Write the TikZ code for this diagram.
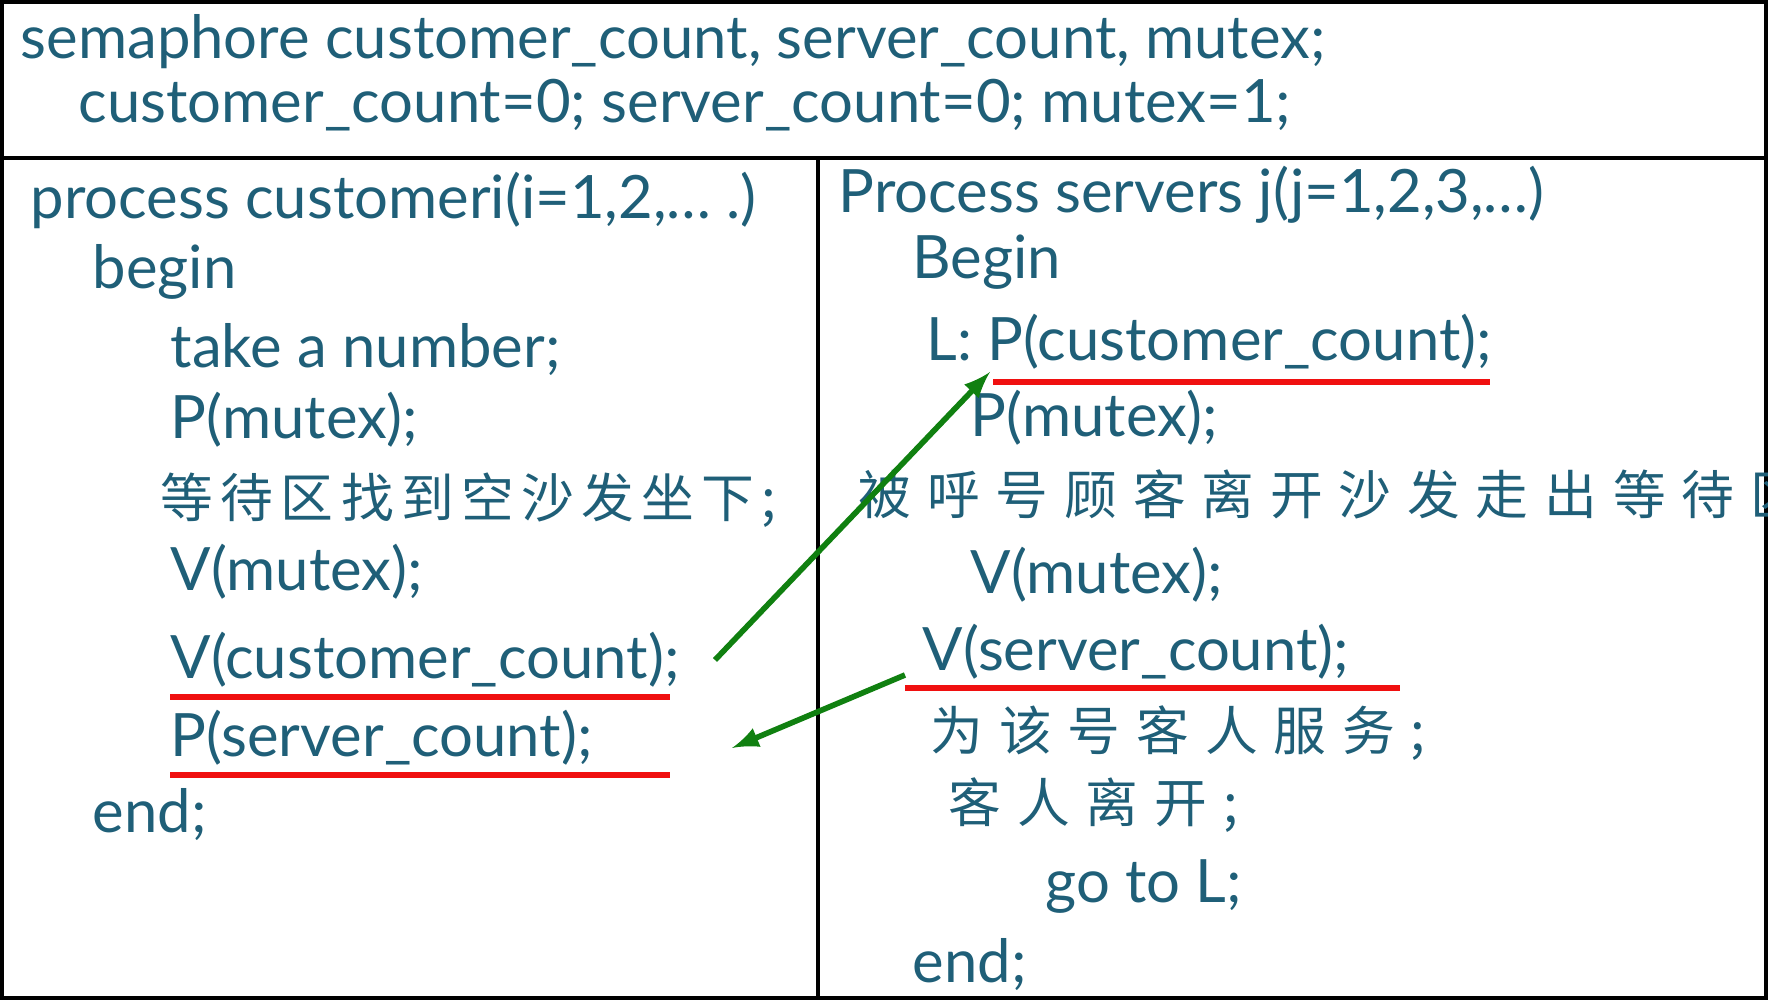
\documentclass[tikz,border=0pt]{standalone}
\usepackage{fontspec}
\setmainfont{Lato}
\newfontfamily\cjk{Noto Sans CJK SC}
\newfontfamily\cjkwide[LetterSpace=14]{Noto Sans CJK SC}
\newfontfamily\cjkwider[LetterSpace=30]{Noto Sans CJK SC}
\definecolor{codeteal}{HTML}{1F5F78}
\definecolor{markred}{HTML}{F01010}
\definecolor{arrowgreen}{HTML}{108010}
\begin{document}
\begin{tikzpicture}[x=0.01cm,y=-0.01cm,
  code/.style={anchor=west,inner sep=0pt,text=codeteal,font=\fontsize{17}{20}\selectfont},
  hanzi/.style={code,font=\fontsize{15}{20}\selectfont\cjkwide},
  hanziwide/.style={code,font=\fontsize{15}{20}\selectfont\cjkwider},
  redline/.style={markred,line width=1.6pt},
  link/.style={arrowgreen,line width=1.6pt,-latex}]
  \useasboundingbox (0,0) rectangle (1768,1001);
  % frame
  \draw[line width=1.2pt] (2,2) rectangle (1766,998);
  \draw[line width=1.2pt] (2,158) -- (1766,158);
  \draw[line width=1.2pt] (818,158) -- (818,998);
  % declarations
  \node[code] (decl) at (20,42) {semaphore customer\_count, server\_count, mutex;};
  \node[code] (init) at (78,105) {customer\_count=0; server\_count=0; mutex=1;};
  % customer process
  \node[code] (cproc) at (30,200) {process customeri(i=1,2,\dots\ .)};
  \node[code] (cbegin) at (92,272) {begin};
  \node[code] (ctake) at (170,350) {take a number;};
  \node[code] (cp) at (170,420) {P(mutex);};
  \node[hanzi] (csit) at (160,500) {等待区找到空沙发坐下;};
  \node[code] (cv) at (170,572) {V(mutex);};
  \node[code] (cvc) at (170,660) {V(customer\_count);};
  \node[code] (cps) at (170,738) {P(server\_count);};
  \node[code] (cend) at (92,815) {end;};
  % server process
  \node[code] (sproc) at (838,195) {Process servers j(j=1,2,3,\dots)};
  \node[code] (sbegin) at (912,262) {Begin};
  \node[code] (spc) at (926,342) {L: P(customer\_count);};
  \node[code] (sp) at (970,418) {P(mutex);};
  \node[hanziwide] (scall) at (858,497) {被呼号顾客离开沙发走出等待区;};
  \node[code] (sv) at (970,575) {V(mutex);};
  \node[code] (svs) at (922,652) {V(server\_count);};
  \node[hanziwide] (sserve) at (930,733) {为该号客人服务;};
  \node[hanziwide] (sleave) at (948,805) {客人离开;};
  \node[code] (sgoto) at (1045,887) {go to L;};
  \node[code] (send) at (912,965) {end;};
  % underlines
  \coordinate (u1a) at (170,697); \coordinate (u1b) at (670,697);
  \coordinate (u2a) at (170,775); \coordinate (u2b) at (670,775);
  \coordinate (u3a) at (993,382); \coordinate (u3b) at (1490,382);
  \coordinate (u4a) at (905,688); \coordinate (u4b) at (1400,688);
  \draw[redline] (u1a) -- (u1b);
  \draw[redline] (u2a) -- (u2b);
  \draw[redline] (u3a) -- (u3b);
  \draw[redline] (u4a) -- (u4b);
  % signals
  \coordinate (a1) at (715,660); \coordinate (a2) at (990,372);
  \coordinate (b1) at (905,675); \coordinate (b2) at (732,748);
  \draw[link] (a1) -- (a2);
  \draw[link] (b1) -- (b2);
\end{tikzpicture}
\end{document}
